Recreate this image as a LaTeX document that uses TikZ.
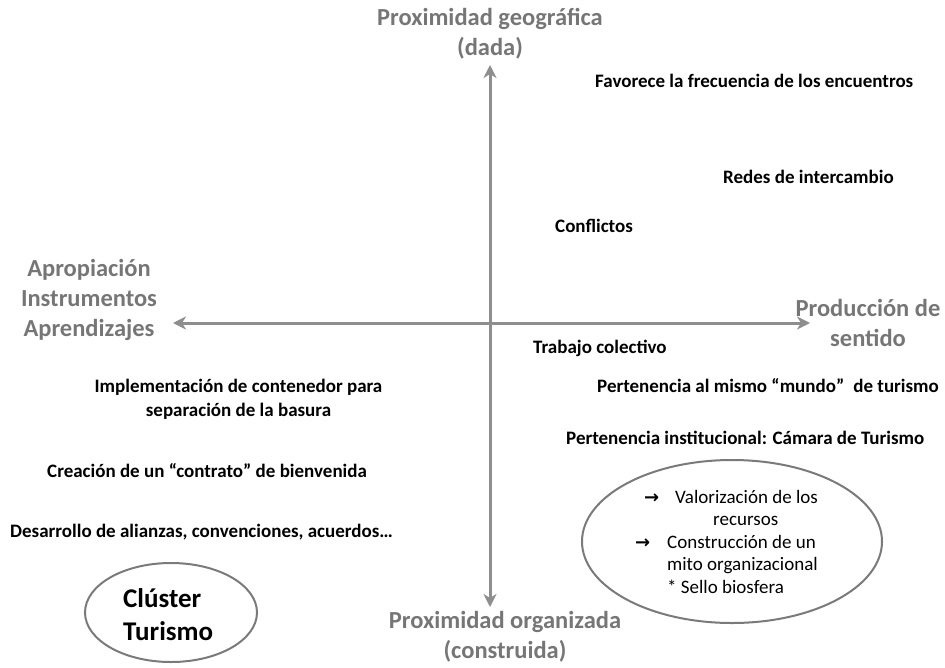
\documentclass[tikz,border=0pt]{standalone}
\usepackage{fontspec}
\setmainfont{Carlito}
\newfontfamily\symfont{DejaVu Sans}
\usetikzlibrary{arrows.meta,shapes.geometric}
\definecolor{axisgray}{HTML}{8E8E8E}
\definecolor{headgray}{HTML}{767676}
\definecolor{ovalgray}{HTML}{7A7A7A}
\begin{document}
\begin{tikzpicture}[x=1pt,y=-1pt,
  axis/.style={draw=axisgray,line width=3pt,-{Stealth[length=13pt,width=13pt,inset=4pt]}},
  head/.style={text=headgray,font=\fontsize{24.5}{30}\selectfont\bfseries,align=center,inner sep=0pt},
  item/.style={text=black,font=\fontsize{19}{24}\selectfont\bfseries,inner sep=0pt,anchor=west},
  oline/.style={text=black,font=\fontsize{19}{23}\selectfont,inner sep=0pt,anchor=base west},
  arr/.style={text=black,font=\symfont\bfseries\fontsize{18}{23}\selectfont,inner sep=0pt,anchor=base west},
  oval/.style={draw=ovalgray,line width=2pt,ellipse,inner sep=0pt},
]
\useasboundingbox (0,0) rectangle (945,667);
\coordinate (c) at (490,323);
\coordinate (top) at (490,65);
\coordinate (bot) at (490,607);
\coordinate (lft) at (173,323);
\coordinate (rgt) at (810,323);
\draw[axis] (c) -- (top);
\draw[axis] (c) -- (bot);
\draw[axis] (c) -- (lft);
\draw[axis] (c) -- (rgt);

\node[head] (n1) at (490,34) {Proximidad geográfica\\(dada)};
\node[head] (n2) at (505,637) {Proximidad organizada\\(construida)};
\node[head] (n3) at (89,299.5) {Apropiación\\Instrumentos\\Aprendizajes};
\node[head] (n4) at (868,323) {Producción de\\sentido};

\node[item] (t1) at (595,81) {Favorece la frecuencia de los encuentros};
\node[item] (t2) at (723,177) {Redes de intercambio};
\node[item] (t3) at (555,226) {Conflictos};
\node[item] (t4) at (533,348) {Trabajo colectivo};
\node[item,anchor=center,align=center] (t5) at (238.5,399) {Implementación de contenedor para\\separación de la basura};
\node[item] (t6) at (597,386) {Pertenencia al mismo “mundo”\hspace{0.25em} de turismo};
\node[item] (t7) at (566,438) {Pertenencia institucional: Cámara de Turismo};
\node[item] (t8) at (47,471) {Creación de un “contrato” de bienvenida};
\node[item] (t9) at (10,532) {Desarrollo de alianzas, convenciones, acuerdos…};

\node[oval,minimum width=300pt,minimum height=163pt] (e1) at (732,541.5) {};
\node[arr] (a1) at (644,503) {→};
\node[oline] (l1) at (675,503) {Valorización de los};
\node[oline] (l2) at (713,525) {recursos};
\node[arr] (a2) at (635,548) {→};
\node[oline] (l3) at (667,548) {Construcción de un};
\node[oline] (l4) at (667,570) {mito organizacional};
\node[oline] (l5) at (667,593) {* Sello biosfera};

\node[oval,minimum width=172pt,minimum height=99pt] (e2) at (171,612.5) {};
\node[font=\fontsize{27}{33}\selectfont\bfseries,align=left,inner sep=0pt,anchor=west] (e2t) at (123,615) {Clúster\\Turismo};
\end{tikzpicture}
\end{document}
